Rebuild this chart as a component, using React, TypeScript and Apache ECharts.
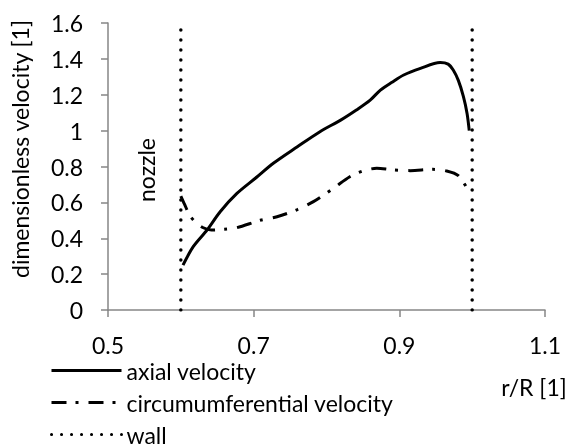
import React, { useEffect, useRef } from "react";
import * as echarts from "echarts";

const axialX = [0.603, 0.617, 0.636, 0.654, 0.677, 0.704, 0.727, 0.76, 0.791, 0.82, 0.841, 0.86, 0.874, 0.89, 0.906, 0.929, 0.956, 0.967, 0.974, 0.981, 0.988, 0.993, 0.996];
const axialY = [0.25, 0.353, 0.446, 0.548, 0.65, 0.74, 0.818, 0.91, 0.994, 1.06, 1.115, 1.17, 1.226, 1.27, 1.31, 1.347, 1.38, 1.371, 1.338, 1.28, 1.19, 1.096, 1.0];

const circX = [0.6, 0.605, 0.612, 0.62, 0.63, 0.642, 0.66, 0.677, 0.709, 0.732, 0.76, 0.782, 0.81, 0.832, 0.85, 0.869, 0.89, 0.915, 0.946, 0.965, 0.981, 0.993];
const circY = [0.635, 0.59, 0.53, 0.49, 0.46, 0.446, 0.45, 0.459, 0.5, 0.52, 0.56, 0.604, 0.68, 0.743, 0.775, 0.79, 0.782, 0.777, 0.784, 0.775, 0.749, 0.678];

const wallX = [0.6, 1.0];
const wallY = [0, 1.6];

const xTicks = [0.5, 0.7, 0.9, 1.1];
const seriesNames = ["axial velocity", "circumumferential velocity", "wall"];

const FONT = "Lato";
const FS = 23;

export default function App() {
  const ref = useRef<HTMLDivElement>(null);
  useEffect(() => {
    if (!ref.current) return;
    const chart = echarts.init(ref.current, undefined, { renderer: "svg" });
    const axisColor = "#868686";
    const wallLine = {
      color: "#000",
      width: 3.5,
      type: [0.1, 9.9] as number[],
      cap: "round" as const,
    };
    chart.setOption({
      animation: false,
      grid: { left: 108, right: 26, top: 23, bottom: 137, containLabel: false },
      xAxis: {
        type: "value",
        min: xTicks[0],
        max: xTicks[xTicks.length - 1],
        interval: 0.2,
        splitLine: { show: false },
        axisLine: { lineStyle: { color: axisColor, width: 1.5 } },
        axisTick: { show: true, length: 7, lineStyle: { color: axisColor, width: 1.5 } },
        axisLabel: {
          margin: 23,
          color: "#000",
          fontFamily: FONT,
          fontSize: FS,
          formatter: (v: number) => String(Number(v.toFixed(1))),
        },
      },
      yAxis: {
        type: "value",
        min: 0,
        max: 1.6,
        interval: 0.2,
        splitLine: { show: false },
        axisLine: { show: true, lineStyle: { color: axisColor, width: 1.5 } },
        axisTick: { show: true, length: 7, lineStyle: { color: axisColor, width: 1.5 } },
        axisLabel: {
          margin: 25,
          color: "#000",
          fontFamily: FONT,
          fontSize: FS,
          formatter: (v: number) => String(Number(v.toFixed(1))),
        },
      },
      legend: {
        orient: "vertical",
        left: 50,
        top: 359,
        height: 120,
        padding: 0,
        itemWidth: 70,
        itemHeight: 14,
        itemGap: 9,
        data: seriesNames,
        itemStyle: { opacity: 0 },
        lineStyle: { width: 3 },
        textStyle: { fontFamily: FONT, fontSize: FS, color: "#000", lineHeight: 22 },
      },
      graphic: [
        {
          type: "text",
          x: 20,
          y: 149,
          rotation: Math.PI / 2,
          style: {
            text: "dimensionless velocity [1]",
            fontFamily: FONT,
            fontSize: 23,
            fill: "#000",
            align: "center",
            verticalAlign: "middle",
          },
        },
        {
          type: "text",
          x: 146,
          y: 170,
          rotation: Math.PI / 2,
          style: {
            text: "nozzle",
            fontFamily: FONT,
            fontSize: FS,
            fill: "#000",
            align: "center",
            verticalAlign: "middle",
          },
        },
        {
          type: "text",
          x: 534,
          y: 387,
          style: {
            text: "r/R [1]",
            fontFamily: FONT,
            fontSize: FS,
            fill: "#000",
            align: "center",
            verticalAlign: "middle",
          },
        },
      ],
      series: [
        {
          name: seriesNames[0],
          type: "line",
          showSymbol: false,
          symbol: "none",
          smooth: 0.3,
          data: axialX.map((x, i) => [x, axialY[i]]),
          lineStyle: { color: "#000", width: 3 },
          itemStyle: { color: "#000" },
          z: 3,
        },
        {
          name: seriesNames[1],
          type: "line",
          showSymbol: false,
          symbol: "none",
          smooth: 0.3,
          data: circX.map((x, i) => [x, circY[i]]),
          lineStyle: { color: "#000", width: 3, type: [15, 9, 3, 10] },
          itemStyle: { color: "#000" },
          z: 3,
        },
        {
          name: seriesNames[2],
          type: "line",
          showSymbol: false,
          symbol: "none",
          data: wallY.map((y) => [wallX[0], y]),
          lineStyle: wallLine,
          itemStyle: { color: "#000" },
          z: 2,
        },
        {
          name: seriesNames[2],
          type: "line",
          showSymbol: false,
          symbol: "none",
          data: wallY.map((y) => [wallX[1], y]),
          lineStyle: wallLine,
          itemStyle: { color: "#000" },
          z: 2,
        },
      ],
    });
    return () => chart.dispose();
  }, []);
  return (
    <div
      ref={ref}
      style={{ position: "fixed", left: 0, top: 0, width: 571, height: 447 }}
    />
  );
}
